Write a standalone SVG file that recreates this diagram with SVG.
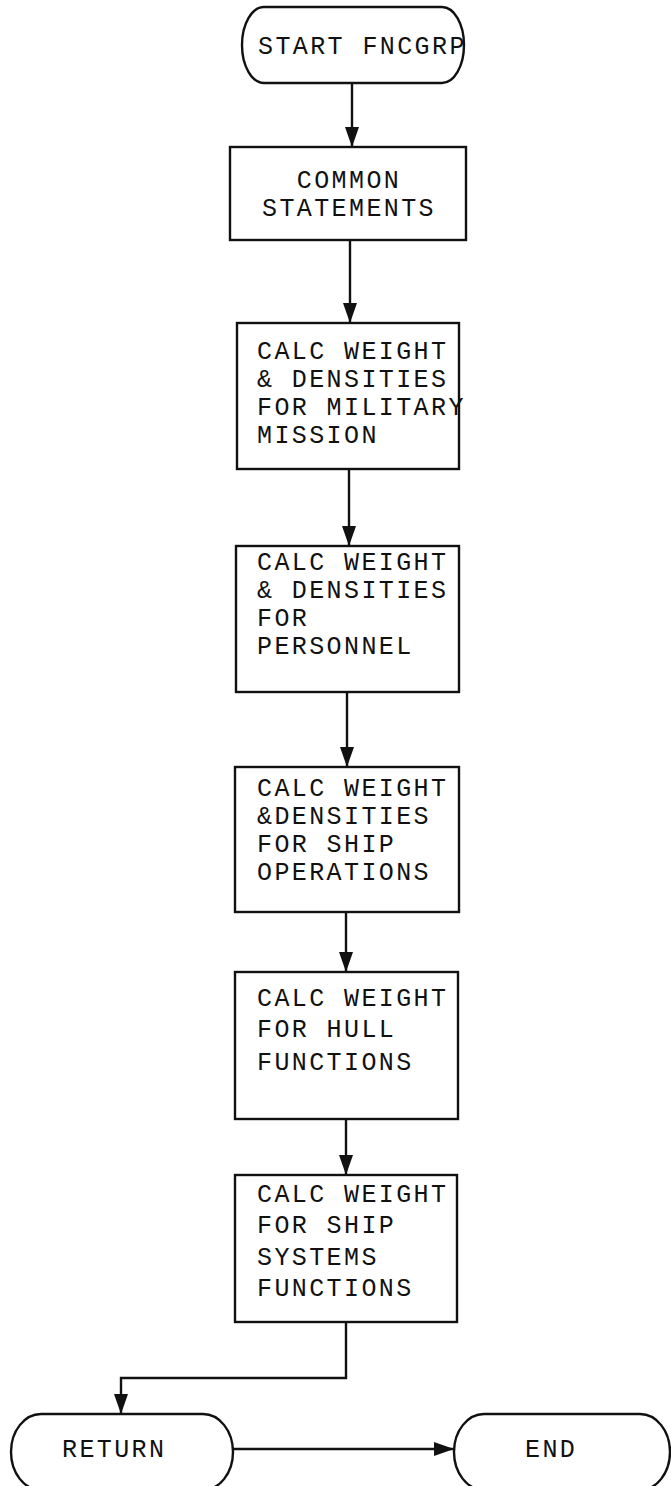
<svg xmlns="http://www.w3.org/2000/svg" width="671" height="1486" viewBox="0 0 671 1486">
<style>
.shape{fill:#fff;stroke:#111;stroke-width:2.4}
.conn{fill:none;stroke:#111;stroke-width:2.4}
text{font-family:"Liberation Mono","DejaVu Sans Mono",monospace;font-size:25px;letter-spacing:2.4px;fill:#111}
</style>
<defs>
<marker id="arr" markerUnits="userSpaceOnUse" markerWidth="20" markerHeight="14" refX="20" refY="7" orient="auto">
<path d="M0,0 L20,7 L0,14 z" fill="#111"/>
</marker>
</defs>
<rect width="671" height="1486" fill="#fff"/>
<g id="connectors">
<path class="conn" d="M352,83 V147" marker-end="url(#arr)"/>
<path class="conn" d="M350,240 V323" marker-end="url(#arr)"/>
<path class="conn" d="M349,469 V546" marker-end="url(#arr)"/>
<path class="conn" d="M347,692 V767" marker-end="url(#arr)"/>
<path class="conn" d="M346,912 V972" marker-end="url(#arr)"/>
<path class="conn" d="M346,1119 V1175" marker-end="url(#arr)"/>
<path class="conn" d="M346,1322 V1378 H121 V1414" marker-end="url(#arr)"/>
<path class="conn" d="M233,1449 H454" marker-end="url(#arr)"/>
</g>
<g id="start">
<rect class="shape" x="242" y="7" width="222" height="76" rx="22" ry="38"/>
<text x="258" y="54">START FNCGRP</text>
</g>
<g id="common">
<rect class="shape" x="230" y="147" width="236" height="93"/>
<text x="349" y="188" text-anchor="middle">COMMON</text>
<text x="349" y="216" text-anchor="middle">STATEMENTS</text>
</g>
<g id="military">
<rect class="shape" x="237" y="323" width="222" height="146"/>
<text x="257" y="359">CALC WEIGHT</text>
<text x="257" y="387">&amp; DENSITIES</text>
<text x="257" y="415">FOR MILITARY</text>
<text x="257" y="443">MISSION</text>
</g>
<g id="personnel">
<rect class="shape" x="236" y="546" width="223" height="146"/>
<text x="257" y="570">CALC WEIGHT</text>
<text x="257" y="598">&amp; DENSITIES</text>
<text x="257" y="626">FOR</text>
<text x="257" y="654">PERSONNEL</text>
</g>
<g id="operations">
<rect class="shape" x="235" y="767" width="224" height="145"/>
<text x="257" y="796">CALC WEIGHT</text>
<text x="257" y="824">&amp;DENSITIES</text>
<text x="257" y="852">FOR SHIP</text>
<text x="257" y="880">OPERATIONS</text>
</g>
<g id="hull">
<rect class="shape" x="235" y="972" width="223" height="147"/>
<text x="257" y="1006">CALC WEIGHT</text>
<text x="257" y="1037">FOR HULL</text>
<text x="257" y="1070">FUNCTIONS</text>
</g>
<g id="systems">
<rect class="shape" x="235" y="1175" width="222" height="147"/>
<text x="257" y="1202">CALC WEIGHT</text>
<text x="257" y="1233">FOR SHIP</text>
<text x="257" y="1265">SYSTEMS</text>
<text x="257" y="1296">FUNCTIONS</text>
</g>
<g id="return">
<rect class="shape" x="11" y="1414" width="222" height="76" rx="30" ry="38"/>
<text x="62" y="1457">RETURN</text>
</g>
<g id="end">
<rect class="shape" x="454" y="1414" width="216" height="76" rx="30" ry="38"/>
<text x="525" y="1457">END</text>
</g>
</svg>
